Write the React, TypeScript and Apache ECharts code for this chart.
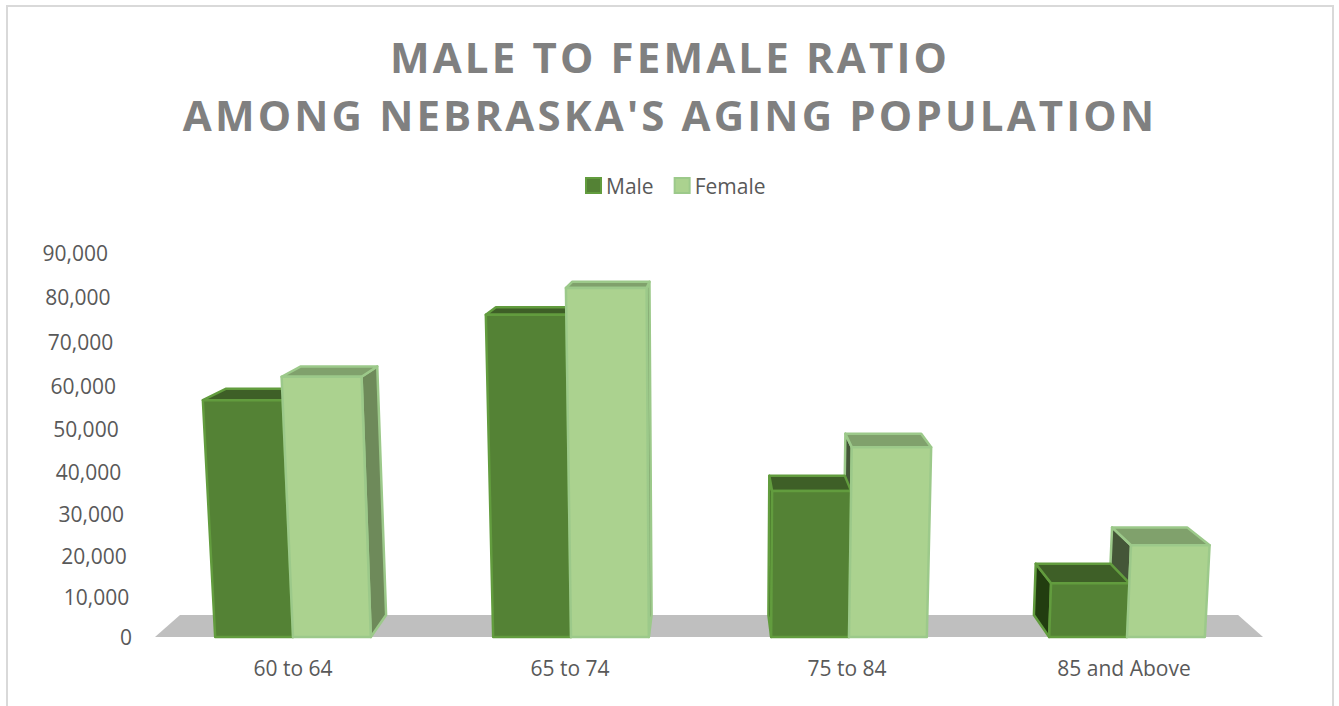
import React, { useEffect, useRef } from "react";
import * as echarts from "echarts";

const titleLines = ["MALE TO FEMALE RATIO", "AMONG NEBRASKA'S AGING POPULATION"];
const categories = ["60 to 64", "65 to 74", "75 to 84", "85 and Above"];
const maleValues = [55500, 75500, 34200, 12600];
const femaleValues = [61000, 81800, 44500, 21500];
const yTicks = [0, 10000, 20000, 30000, 40000, 50000, 60000, 70000, 80000, 90000];

// The reference tick labels follow a perspective wall, so each one is nudged a little.
const yLabelDown = [0, 2.5, 4, 5, 5.5, 5.5, 4.5, 3.5, 1.5, 0];
const xLabelLeft = [0, 1, 2, 3];

const FONT = "'Open Sans', sans-serif";
const VANISH_Y = 148;
const DEPTH = 0.955;
const LEAN = 1.05e-4;
const BAR_FRAC = 0.28;

const maleColors = { front: "#548235", top: "#3e5f27", right: "#3e5f27", left: "#223d10", stroke: "#629c3e" };
const femaleColors = { front: "#abd28f", top: "#80a16c", right: "#6e8a5a", left: "#445638", stroke: "#9cc98a" };

function renderBar(side: number, colors: any, zBack: number, zFront: number) {
  return (params: any, api: any) => {
    const cat = api.value(0);
    const val = api.value(1);
    const top = api.coord([cat, val]);
    const base = api.coord([cat, 0]);
    const cs = params.coordSys;
    const vx = cs.x + cs.width / 2;
    const w = api.size([1, 0])[0] * BAR_FRAC;
    const xL = side < 0 ? base[0] - w : base[0];
    const xR = xL + w;
    const front = (x: number, y: number) => [x + (x - vx) * (base[1] - y) * LEAN, y];
    const back = (p: number[]) => [vx + (p[0] - vx) * DEPTH, VANISH_Y + (p[1] - VANISH_Y) * DEPTH];
    const fBL = front(xL, base[1]);
    const fBR = front(xR, base[1]);
    const fTL = front(xL, top[1]);
    const fTR = front(xR, top[1]);
    const poly = (points: number[][], fill: string, z2: number) => ({
      type: "polygon",
      z2,
      shape: { points },
      style: { fill, stroke: colors.stroke, lineWidth: 2.5, lineJoin: "round" },
    });
    const children: any[] = [];
    if (xL > vx) children.push(poly([fTL, back(fTL), back(fBL), fBL], colors.left, zBack));
    if (xR < vx) children.push(poly([fTR, back(fTR), back(fBR), fBR], colors.right, zBack));
    children.push(poly([fTL, back(fTL), back(fTR), fTR], colors.top, zBack));
    children.push(poly([fTL, fTR, fBR, fBL], colors.front, zFront));
    return { type: "group", children };
  };
}

function renderFloor(params: any, api: any) {
  const cs = params.coordSys;
  const y0 = api.coord([0, 0])[1];
  const vx = cs.x + cs.width / 2;
  const back = (p: number[]) => [vx + (p[0] - vx) * DEPTH, VANISH_Y + (p[1] - VANISH_Y) * DEPTH];
  const a = [cs.x + 1, y0];
  const b = [cs.x + cs.width - 3, y0];
  return {
    type: "polygon",
    z2: 0,
    shape: { points: [a, back(a), back(b), b] },
    style: { fill: "#bfbfbf" },
  };
}

export default function App() {
  const ref = useRef<HTMLDivElement>(null);
  useEffect(() => {
    document.body.style.margin = "0";
    document.body.style.overflow = "hidden";
    const chart = echarts.init(ref.current!, undefined, { renderer: "svg" });
    const rich: any = {};
    yTicks.forEach((t, i) => {
      rich["t" + t] = {
        fontFamily: FONT,
        fontSize: 21,
        color: "#595959",
        padding: [yLabelDown[i] * 2, (t / 10000) * 2.67, 0, 0],
      };
    });
    const xRich: any = {};
    categories.forEach((_, i) => {
      xRich["c" + i] = {
        fontFamily: FONT,
        fontSize: 21,
        color: "#595959",
        padding: [0, xLabelLeft[i] * 2, 0, 0],
      };
    });
    chart.setOption({
      animation: false,
      backgroundColor: "#ffffff",
      graphic: [
        {
          type: "rect",
          silent: true,
          shape: { x: 7, y: 6, width: 1326, height: 730 },
          style: { fill: "none", stroke: "#d9d9d9", lineWidth: 2 },
        },
      ],
      title: {
        text: titleLines.join("\n"),
        left: 665,
        top: 22,
        textAlign: "center",
        textStyle: {
          fontFamily: FONT,
          fontSize: 42,
          fontWeight: "bold",
          color: "#808080",
          lineHeight: 58,
        },
      },
      legend: {
        data: ["Male", "Female"],
        top: 175,
        left: 585,
        padding: 0,
        itemWidth: 15,
        itemHeight: 15,
        itemGap: 20,
        icon: "rect",
        textStyle: { fontFamily: FONT, fontSize: 21, color: "#595959" },
      },
      grid: { left: 154, top: 253, width: 1112, height: 384, containLabel: false },
      xAxis: {
        type: "category",
        data: categories,
        axisLine: { show: false },
        axisTick: { show: false },
        axisLabel: {
          margin: 20,
          formatter: (v: string, i: number) => `{c${i}|${v}}`,
          rich: xRich,
        },
      },
      yAxis: {
        type: "value",
        min: 0,
        max: 90000,
        interval: 10000,
        axisLine: { show: false },
        axisTick: { show: false },
        splitLine: { show: false },
        axisLabel: {
          margin: 22,
          formatter: (v: number) => `{t${v}|${v.toLocaleString("en-US")}}`,
          rich,
        },
      },
      series: [
        {
          name: "Floor",
          type: "custom",
          silent: true,
          renderItem: renderFloor,
          data: [[0, 0]],
          z: 1,
        },
        {
          name: "Male",
          type: "custom",
          renderItem: renderBar(-1, maleColors, 3, 4),
          itemStyle: { color: maleColors.front, borderColor: maleColors.stroke, borderWidth: 1 },
          encode: { x: 0, y: 1 },
          data: maleValues.map((v, i) => [i, v]),
          z: 2,
        },
        {
          name: "Female",
          type: "custom",
          renderItem: renderBar(1, femaleColors, 1, 5),
          itemStyle: { color: femaleColors.front, borderColor: femaleColors.stroke, borderWidth: 1 },
          encode: { x: 0, y: 1 },
          data: femaleValues.map((v, i) => [i, v]),
          z: 2,
        },
      ],
    });
    ref.current!.querySelectorAll("text").forEach((t) => {
      if (titleLines.includes((t.textContent || "").trim())) t.style.letterSpacing = "3.15px";
    });
    return () => chart.dispose();
  }, []);
  return <div ref={ref} style={{ width: 1339, height: 706 }} />;
}
